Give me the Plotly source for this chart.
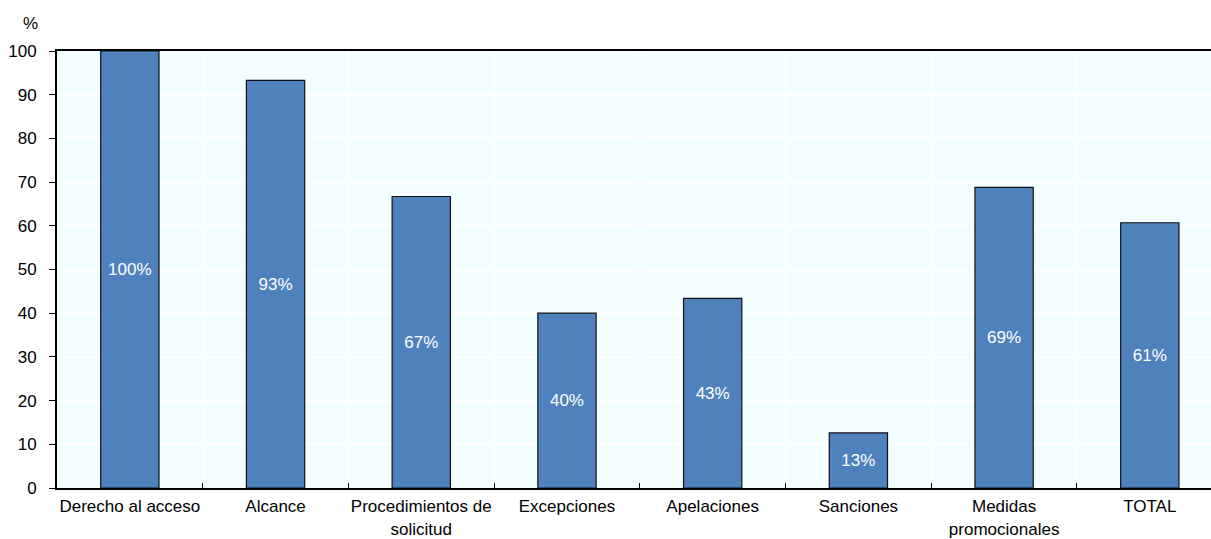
import plotly.graph_objects as go

categories = [
    "Derecho al acceso",
    "Alcance",
    "Procedimientos de<br>solicitud",
    "Excepciones",
    "Apelaciones",
    "Sanciones",
    "Medidas<br>promocionales",
    "TOTAL",
]
values = [100, 93.3, 66.7, 40.0, 43.4, 12.6, 68.8, 60.7]
y_ticks = [0, 10, 20, 30, 40, 50, 60, 70, 80, 90, 100]

FONT = "Liberation Sans, Arial, sans-serif"
BAR = "#4F81BD"
BG = "#F2FEFF"
SIZE = 17

fig = go.Figure(
    go.Bar(
        x=categories,
        y=values,
        width=0.4,
        marker=dict(color=BAR, line=dict(color="#111111", width=1.2)),
        texttemplate="%{y:.0f}%",
        textposition="inside",
        insidetextanchor="middle",
        textangle=0,
        textfont=dict(family=FONT, size=SIZE, color="white"),
        cliponaxis=False,
    )
)

fig.update_layout(
    width=1211,
    height=539,
    margin=dict(l=57, r=0, t=51, b=51),
    paper_bgcolor="white",
    plot_bgcolor=BG,
    showlegend=False,
    font=dict(family=FONT, size=SIZE, color="#000000"),
    xaxis=dict(
        type="category",
        range=[-0.5, 7.42],
        tickson="boundaries",
        tickangle=0,
        automargin=False,
        ticks="inside",
        ticklen=5,
        tickcolor="#000000",
        ticklabelstandoff=2,
        showgrid=True,
        gridcolor="white",
        gridwidth=1.5,
        showline=True,
        linecolor="#000000",
        linewidth=2,
        mirror=True,
        tickfont=dict(family=FONT, size=SIZE, color="#000000"),
    ),
    yaxis=dict(
        range=[0, 100],
        tickvals=y_ticks,
        automargin=False,
        ticks="outside",
        ticklen=6,
        tickcolor="#000000",
        ticklabelstandoff=9,
        showgrid=True,
        gridcolor="white",
        gridwidth=1.5,
        zeroline=False,
        showline=True,
        linecolor="#000000",
        linewidth=2,
        tickfont=dict(family=FONT, size=SIZE, color="#000000"),
    ),
    annotations=[
        dict(
            text="%",
            xref="paper",
            yref="paper",
            x=-0.023,
            y=1.0,
            xanchor="center",
            yanchor="bottom",
            yshift=16,
            showarrow=False,
            font=dict(family=FONT, size=SIZE, color="#000000"),
        )
    ],
)

fig.write_html("out.html")
